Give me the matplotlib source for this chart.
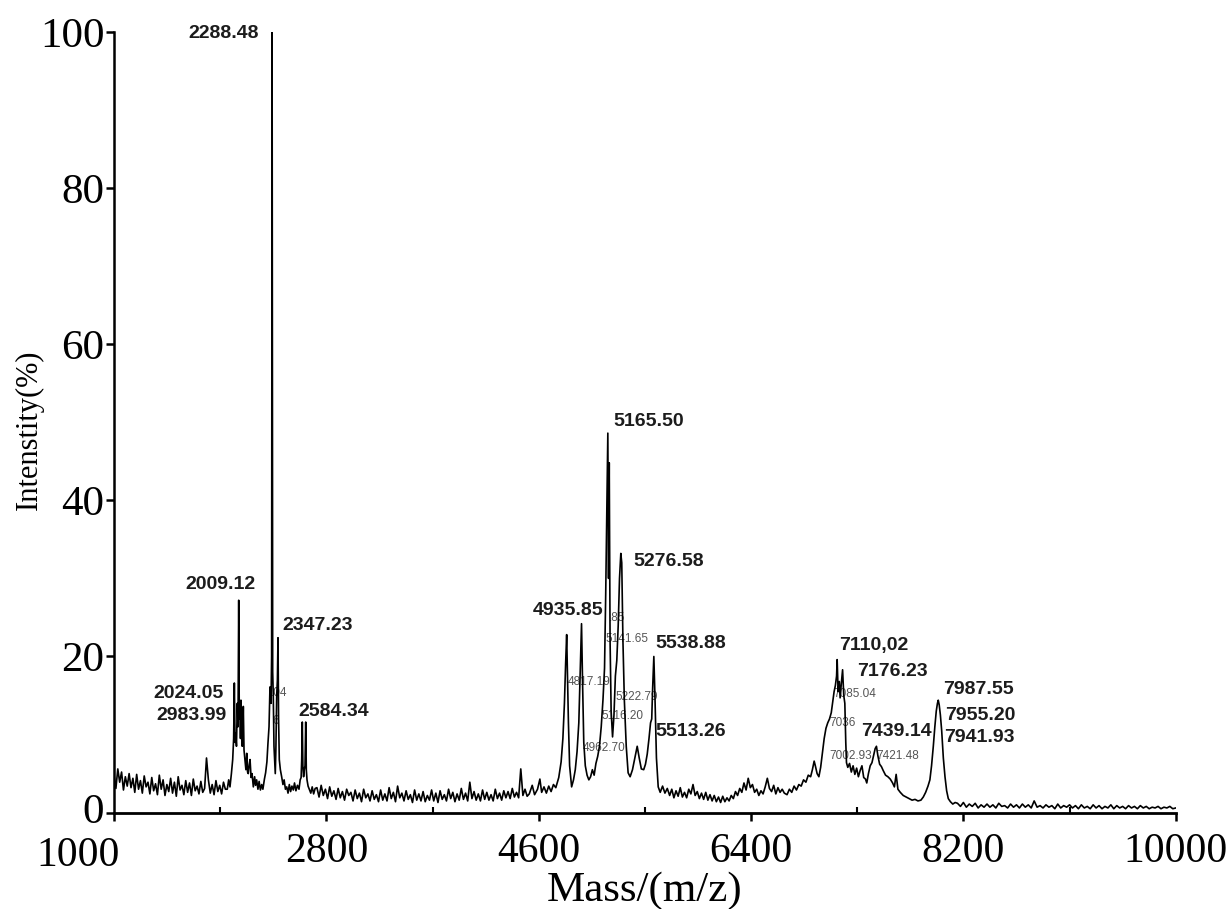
import numpy as np
import matplotlib
matplotlib.use("Agg")
import matplotlib.pyplot as plt
import matplotlib.transforms as mtransforms


# --- spectrum (m/z, intensity %) ---

# low-mass noise, 1000-1944, sampled every 16 m/z
low_mass = np.arange(1000, 1960, 16)
low_int = [
    4.8, 3.1, 5.6, 3.9, 5.2, 2.9, 4.6, 3.4, 5.0, 3.2,
    4.4, 2.6, 4.9, 3.0, 4.1, 2.5, 4.7, 3.3, 3.9, 2.4,
    4.5, 2.8, 3.7, 2.3, 4.8, 3.0, 4.2, 2.2, 3.6, 2.7,
    4.4, 2.5, 3.9, 2.1, 4.6, 2.9, 3.5, 2.3, 4.1, 2.6,
    3.8, 2.2, 4.3, 2.8, 3.4, 2.4, 4.0, 2.6, 3.1, 7.0,
    4.2, 2.5, 3.6, 2.3, 4.1, 2.7, 3.5, 2.4, 3.9, 3.0,
]

# cluster around 2000-2700
a_mass = [
    1960, 1972, 1983, 1995, 2006, 2014, 2020, 2026, 2031, 2038,
    2045, 2051, 2057, 2062, 2068, 2072, 2076, 2081, 2087, 2092,
    2096, 2102, 2110, 2118, 2125, 2132, 2138, 2146, 2153, 2162,
    2170, 2181, 2192, 2200, 2209, 2220, 2230, 2241, 2252, 2262,
    2275, 2285, 2296, 2305, 2314, 2322, 2331, 2336, 2340, 2345,
    2350, 2356, 2362, 2367, 2372, 2379, 2385, 2390, 2395, 2401,
    2410, 2421, 2432, 2442, 2453, 2464, 2475, 2486, 2497, 2508,
    2520, 2530, 2542, 2555, 2568, 2578, 2586, 2591, 2596, 2601,
    2607, 2613, 2619, 2625, 2630, 2636, 2645, 2655, 2668, 2680,
    2692, 2705,
]
a_int = [
    3.0, 4.2, 3.3, 5.0, 6.8, 9.5, 16.6, 9.0, 10.2, 8.5,
    14.0, 11.0, 27.2, 12.0, 13.1, 9.5, 14.4, 10.0, 8.5, 10.5,
    13.6, 8.0, 6.8, 5.5, 7.6, 5.2, 5.0, 6.2, 6.8, 4.5,
    5.0, 3.3, 4.6, 3.5, 4.2, 3.0, 4.0, 2.9, 3.6, 3.0,
    4.3, 5.1, 6.5, 8.9, 11.0, 16.1, 14.0, 20.0, 100.0, 18.0,
    15.0, 8.5, 6.5, 5.0, 8.0, 15.0, 17.0, 22.4, 12.0, 6.8,
    5.5, 4.6, 3.6, 4.2, 3.0, 3.3, 2.5, 3.6, 2.7, 3.4,
    2.9, 3.8, 2.8, 3.5, 3.0, 4.2, 4.5, 6.8, 11.6, 6.0,
    4.6, 5.5, 6.0, 11.6, 5.5, 4.2, 3.4, 3.0, 2.5, 3.3,
    2.4, 3.1,
]

# noise 2720-4502, every 18 m/z
mid_mass = np.arange(2720, 4520, 18)
mid_int = [
    3.2, 2.0, 3.5, 2.2, 3.0, 1.8, 3.3, 2.1, 2.8, 1.7,
    3.1, 1.9, 2.7, 1.6, 3.0, 2.2, 2.6, 1.5, 2.9, 1.8,
    2.5, 1.4, 3.0, 1.9, 2.4, 1.5, 2.8, 1.7, 2.3, 1.4,
    2.9, 1.6, 2.4, 1.5, 3.2, 1.8, 2.6, 1.4, 3.4, 1.9,
    2.5, 1.5, 2.8, 1.7, 2.3, 1.3, 2.9, 1.6, 2.4, 1.5,
    2.7, 1.4, 2.2, 1.6, 2.9, 1.5, 2.5, 1.3, 2.8, 1.7,
    2.3, 1.5, 3.0, 1.8, 2.6, 1.4, 2.4, 1.6, 3.1, 1.7,
    2.5, 1.5, 3.9, 1.8, 2.7, 1.6, 2.4, 1.5, 2.9, 1.7,
    2.6, 1.6, 2.3, 1.5, 3.0, 1.8, 2.5, 1.6, 2.8, 1.9,
    2.7, 1.8, 3.1, 2.0, 2.6, 1.9, 5.6, 2.2, 3.0, 2.1,
]

# cluster 4500-5700
b_mass = [
    4520, 4545, 4565, 4590, 4610, 4625, 4645, 4665, 4685, 4705,
    4725, 4745, 4770, 4790, 4805, 4818, 4828, 4837, 4845, 4852,
    4862, 4879, 4895, 4910, 4925, 4940, 4952, 4963, 4972, 4982,
    4995, 5010, 5025, 5040, 5055, 5070, 5085, 5100, 5115, 5130,
    5145, 5158, 5168, 5178, 5186, 5192, 5198, 5205, 5214, 5226,
    5238, 5250, 5262, 5274, 5285, 5296, 5304, 5314, 5326, 5342,
    5358, 5375, 5395, 5415, 5435, 5452, 5470, 5490, 5505, 5520,
    5535, 5548, 5558, 5566, 5576, 5586, 5598, 5613, 5630, 5650,
    5670, 5690,
]
b_int = [
    2.4, 3.5, 2.3, 3.0, 4.3, 2.6, 3.3, 2.5, 3.4, 2.7,
    3.6, 3.2, 4.5, 6.5, 9.5, 14.0, 19.0, 22.8, 17.0, 11.5,
    6.0, 3.3, 4.2, 5.5, 7.8, 11.5, 18.0, 24.2, 16.5, 9.0,
    6.0, 4.8, 4.2, 4.6, 5.5, 4.8, 6.3, 7.2, 8.5, 11.0,
    14.5, 18.5, 28.0, 39.0, 48.6, 30.0, 44.8, 22.0, 13.0, 9.7,
    12.5, 17.5, 19.5, 24.0, 30.0, 33.2, 32.0, 22.0, 14.4, 8.5,
    5.1, 4.6, 5.5, 7.0, 8.5, 7.0, 5.6, 5.5, 6.2, 7.5,
    9.5, 11.5, 12.0, 16.0, 20.0, 14.5, 7.0, 3.3, 2.6, 3.4,
    2.5, 3.1,
]

# noise 5710-6682, every 18 m/z
hi_mass = np.arange(5710, 6700, 18)
hi_int = [
    2.2, 3.0, 1.9, 2.8, 2.1, 3.2, 2.0, 2.6, 1.9, 3.0,
    2.4, 3.6, 2.2, 2.7, 1.8, 2.5, 1.7, 2.6, 1.6, 2.3,
    1.5, 2.2, 1.4, 2.0, 1.3, 2.1, 1.4, 1.9, 1.5, 2.2,
    1.8, 2.7, 2.2, 3.1, 2.6, 3.8, 2.9, 4.4, 3.2, 3.6,
    2.6, 3.0, 2.2, 2.8, 2.4, 3.3, 4.4, 3.1, 2.7, 3.5,
    2.4, 3.2, 2.6, 3.0, 2.5,
]

# cluster 6700-8130
c_mass = [
    6705, 6725, 6745, 6765, 6785, 6805, 6825, 6845, 6865, 6885,
    6905, 6920, 6935, 6945, 6960, 6975, 6990, 7005, 7020, 7035,
    7050, 7065, 7080, 7092, 7104, 7115, 7125, 7130, 7138, 7148,
    7155, 7165, 7176, 7186, 7195, 7203, 7209, 7220, 7235, 7250,
    7265, 7280, 7295, 7310, 7325, 7340, 7355, 7370, 7381, 7395,
    7410, 7425, 7440, 7452, 7463, 7475, 7490, 7505, 7520, 7540,
    7560, 7580, 7600, 7615, 7630, 7645, 7665, 7690, 7715, 7740,
    7765, 7790, 7815, 7840, 7860, 7880, 7900, 7916, 7930, 7945,
    7958, 7970, 7980, 7987, 7995, 8005, 8016, 8030, 8044, 8058,
    8072, 8090, 8110, 8130,
]
c_int = [
    2.3, 3.0, 2.6, 3.4, 2.9, 3.6, 3.4, 4.2, 3.9, 4.8,
    4.6, 5.5, 6.6, 6.0, 5.0, 4.6, 5.8, 7.6, 9.5, 10.8,
    11.5, 12.0, 12.8, 14.2, 15.5, 16.3, 17.5, 19.6, 15.5, 16.8,
    14.7, 16.5, 18.3, 15.0, 14.0, 9.0, 6.4, 5.8, 6.3, 5.2,
    6.0, 4.9, 5.7, 4.6, 5.4, 6.0, 4.5, 4.3, 3.8, 5.0,
    6.0, 6.4, 7.4, 8.2, 8.5, 7.3, 6.2, 5.9, 5.4, 4.8,
    4.6, 4.3, 3.8, 3.3, 4.9, 3.0, 2.6, 2.2, 2.0, 1.8,
    1.6, 1.7, 1.5, 1.6, 2.0, 2.6, 3.4, 4.2, 6.0, 8.5,
    11.0, 13.0, 14.0, 14.4, 13.8, 12.5, 10.5, 7.0, 4.6, 2.8,
    1.8, 1.4, 1.1, 1.3,
]

# tail 8150-10000, every 25 m/z
tail_mass = np.arange(8150, 10001, 25)
tail_int = [
    1.2, 0.8, 1.3, 0.7, 1.1, 0.8, 1.2, 0.6, 1.0, 0.7,
    1.1, 0.7, 1.0, 0.6, 1.2, 0.8, 0.9, 0.6, 1.1, 0.7,
    1.0, 0.6, 1.1, 0.7, 1.0, 0.6, 1.5, 0.7, 0.9, 0.6,
    1.0, 0.7, 0.9, 0.5, 1.1, 0.6, 0.9, 0.7, 1.0, 0.6,
    0.9, 0.5, 1.0, 0.6, 0.8, 0.5, 1.0, 0.6, 0.9, 0.5,
    0.8, 0.6, 1.0, 0.5, 0.9, 0.6, 0.8, 0.5, 0.9, 0.6,
    0.8, 0.5, 0.9, 0.6, 0.8, 0.5, 0.7, 0.6, 0.8, 0.5,
    0.7, 0.6, 0.8, 0.5, 0.6,
]

# peak annotations: text, left edge m/z, centre intensity
big_labels = [
    ("2288.48", 1630, 99.8),
    ("2009.12", 1602, 29.2),
    ("2347.23", 2424, 24.0),
    ("2024.05", 1331, 15.3),
    ("2983.99", 1356, 12.4),
    ("2584.34", 2559, 13.0),
    ("4935.85", 4551, 25.9),
    ("5165.50", 5229, 50.1),
    ("5276.58", 5399, 32.1),
    ("5538.88", 5585, 21.7),
    ("5513.26", 5585, 10.4),
    ("7110,02", 7144, 21.4),
    ("7176.23", 7297, 18.1),
    ("7439.14", 7331, 10.4),
    ("7987.55", 8026, 15.8),
    ("7955.20", 8043, 12.5),
    ("7941.93", 8034, 9.6),
]
small_labels = [
    (".85", 5195, 24.9),
    ("5141.65", 5170, 22.2),
    ("4817.19", 4848, 16.7),
    ("5222.79", 5254, 14.8),
    ("5116.20", 5136, 12.4),
    ("4962.70", 4975, 8.3),
    ("7085.04", 7094, 15.2),
    ("7036", 7068, 11.5),
    ("7002.93", 7060, 7.2),
    ("7421.48", 7466, 7.3),
    (".04", 2330, 15.3),
    ("6", 2342, 11.8),
]

x_ticks = [1000, 2800, 4600, 6400, 8200, 10000]
x_minor = [1900, 3700, 5500, 7300, 9100]
y_ticks = [0, 20, 40, 60, 80, 100]


def main():
    mass = np.concatenate([low_mass, a_mass, mid_mass, b_mass, hi_mass, c_mass, tail_mass])
    inten = np.concatenate([low_int, a_int, mid_int, b_int, hi_int, c_int, tail_int])

    fig = plt.figure(figsize=(12.26, 9.09), dpi=100)
    ax = fig.add_axes([0.093, 0.106, 0.866, 0.859])

    ax.plot(mass, inten, color="black", lw=1.2, zorder=3)

    for txt, m, y in big_labels:
        ax.text(m, y, txt, ha="left", va="center", fontsize=14,
                fontweight="bold", family="Liberation Sans", color="#1c1c1c", zorder=4)
    for txt, m, y in small_labels:
        ax.text(m, y, txt, ha="left", va="center", fontsize=8.5,
                family="Liberation Sans", color="#555555", zorder=2)

    ax.set_xlim(1000, 10000)
    ax.set_ylim(0, 100)
    ax.set_xticks(x_ticks)
    ax.set_yticks(y_ticks)
    ax.set_xticks(x_minor, minor=True)

    for s in ("top", "right"):
        ax.spines[s].set_visible(False)
    ax.spines["left"].set_linewidth(1.8)
    ax.spines["bottom"].set_linewidth(2.0)

    ax.tick_params(axis="both", which="major", direction="out", length=6, width=1.8)
    ax.tick_params(axis="y", which="major", pad=1, labelsize=31)
    ax.tick_params(axis="x", which="major", pad=8, labelsize=30)
    ax.tick_params(axis="x", which="minor", direction="in", length=4, width=1.5)
    for lab in ax.get_xticklabels() + ax.get_yticklabels():
        lab.set_family("Liberation Serif")

    # first x label sits left of and a touch below its tick, clear of the y "0"
    first = ax.get_xticklabels()[0]
    first.set_transform(first.get_transform() +
                        mtransforms.ScaledTranslation(-36 / 100, -4 / 100, fig.dpi_scale_trans))
    zero = ax.get_yticklabels()[0]
    zero.set_transform(zero.get_transform() +
                       mtransforms.ScaledTranslation(0, 4 / 100, fig.dpi_scale_trans))

    ax.set_xlabel("Mass/(m/z)", family="Liberation Serif", fontsize=31, labelpad=-2)
    ax.set_ylabel("Intenstity(%)", family="Liberation Serif", fontsize=22)
    ax.yaxis.set_label_coords(-0.066, 0.49)

    fig.savefig("out.png", dpi=100)


if __name__ == "__main__":
    main()
